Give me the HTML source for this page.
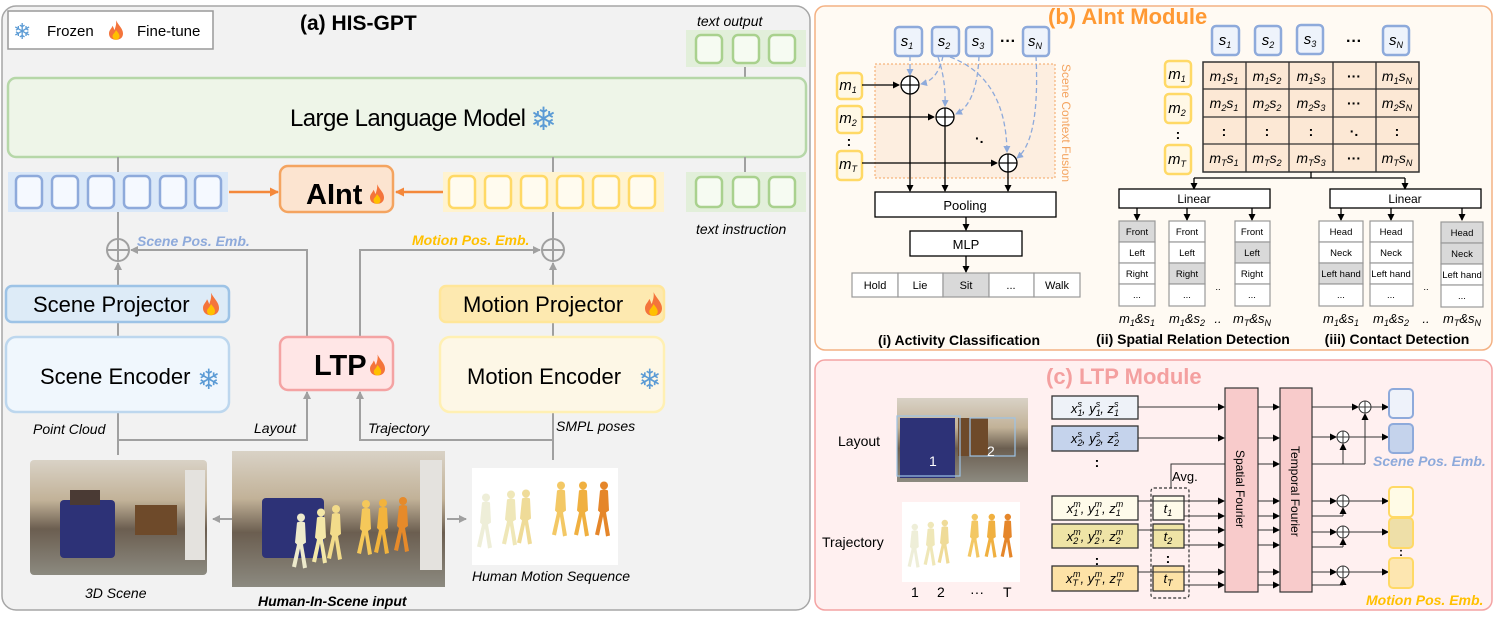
<!DOCTYPE html>
<html><head><meta charset="utf-8"><style>
html,body{margin:0;padding:0;background:#fff}
svg{display:block}
text{font-family:"Liberation Sans",sans-serif}
.it{font-style:italic}
.m{font-family:"Liberation Serif",serif;font-style:italic}
.sb{font-size:9px}
.sf{font-family:"DejaVu Sans",sans-serif;fill:#5b9bd5}
</style></head><body>
<svg width="1495" height="617" viewBox="0 0 1495 617" xmlns="http://www.w3.org/2000/svg">
<defs>
<marker id="ag" markerWidth="8" markerHeight="8" refX="7" refY="4" orient="auto" markerUnits="userSpaceOnUse"><path d="M0,0 L8,4 L0,8z" fill="#a0a0a0"/></marker>
<marker id="ao" markerWidth="9" markerHeight="9" refX="8" refY="4.5" orient="auto" markerUnits="userSpaceOnUse"><path d="M0,0 L9,4.5 L0,9z" fill="#f4883b"/></marker>
<marker id="ak" markerWidth="7" markerHeight="7" refX="6" refY="3.5" orient="auto" markerUnits="userSpaceOnUse"><path d="M0,0 L7,3.5 L0,7z" fill="#000"/></marker>
<marker id="ab" markerWidth="7" markerHeight="7" refX="6" refY="3.5" orient="auto" markerUnits="userSpaceOnUse"><path d="M0,0 L7,3.5 L0,7z" fill="#8eaadb"/></marker>
<symbol id="fl" viewBox="0 0 10 14"><path d="M5 0 C7 4 10 6 10 9.5 C10 12.5 7.8 14 5 14 C2.2 14 0 12.5 0 9.5 C0 7 2 6 2.5 4 C3.5 5.5 3.5 6.5 4 7 C4.5 5 5.5 3 5 0Z" fill="#f4743b"/><path d="M5 7 C6.5 9 7.5 10 7.5 11.5 C7.5 13 6.3 14 5 14 C3.7 14 2.5 13 2.5 11.5 C2.5 10 4 9.5 5 7Z" fill="#ffc000"/></symbol>
<symbol id="fig" viewBox="0 0 20 60"><circle cx="11" cy="5" r="4"/><path d="M7 10 Q11 8 15 10 L16 30 L13 32 L17 55 L13 56 L10 36 L6 55 L2 54 L7 32 L5 30z"/></symbol>
<linearGradient id="room" x1="0" y1="0" x2="0" y2="1"><stop offset="0" stop-color="#d9d2c6"/><stop offset="0.35" stop-color="#c2b298"/><stop offset="0.6" stop-color="#6b5e50"/><stop offset="1" stop-color="#8c8a80"/></linearGradient>
</defs>

<!-- ========== (a) ========== -->
<rect x="2" y="6" width="808" height="604" rx="14" fill="#f2f2f2" stroke="#a6a6a6" stroke-width="1.5"/>
<rect x="8" y="11" width="205" height="38" fill="#fff" stroke="#999" stroke-width="1.5"/>
<text x="13" y="39" class="sf" font-size="22">❄</text>
<text x="47" y="36" font-size="15">Frozen</text>
<use href="#fl" x="109" y="18" width="14" height="24"/>
<text x="137" y="36" font-size="15">Fine-tune</text>
<text x="300" y="30" font-size="21" font-weight="bold">(a) HIS-GPT</text>
<text x="697" y="26" font-size="14" class="it">text output</text>
<rect x="686" y="30" width="120" height="37" fill="#e2efda"/>
<rect x="696" y="35" width="26" height="28" rx="5" fill="#f6fbf2" stroke="#a9d18e" stroke-width="2.5"/>
<rect x="733" y="35" width="26" height="28" rx="5" fill="#f6fbf2" stroke="#a9d18e" stroke-width="2.5"/>
<rect x="769" y="35" width="26" height="28" rx="5" fill="#f6fbf2" stroke="#a9d18e" stroke-width="2.5"/>
<line x1="745" y1="67" x2="745" y2="78" stroke="#a0a0a0" stroke-width="2"/>
<rect x="8" y="78" width="798" height="79" rx="8" fill="#eef5e8" stroke="#b6d7a8" stroke-width="2.5"/>
<text x="290" y="126" font-size="24" textLength="236">Large Language Model</text>
<text x="530" y="130" class="sf" font-size="32">❄</text>

<line x1="118" y1="157" x2="118" y2="172" stroke="#a0a0a0" stroke-width="2"/>
<line x1="553" y1="157" x2="553" y2="172" stroke="#a0a0a0" stroke-width="2"/>
<line x1="745" y1="157" x2="745" y2="172" stroke="#a0a0a0" stroke-width="2"/>

<rect x="8" y="172" width="220" height="40" fill="#dae8f8"/>
<g fill="#f5f9ff" stroke="#8eaadb" stroke-width="2.5">
<rect x="16" y="176" width="26" height="32" rx="5"/><rect x="52" y="176" width="26" height="32" rx="5"/><rect x="88" y="176" width="26" height="32" rx="5"/><rect x="124" y="176" width="26" height="32" rx="5"/><rect x="160" y="176" width="26" height="32" rx="5"/><rect x="195" y="176" width="26" height="32" rx="5"/>
</g>
<line x1="229" y1="192" x2="278" y2="192" stroke="#f4883b" stroke-width="2.5" marker-end="url(#ao)"/>
<rect x="280" y="166" width="113" height="46" rx="8" fill="#fce4d0" stroke="#f4a460" stroke-width="2.5"/>
<text x="306" y="204" font-size="29" font-weight="bold">AInt</text>
<use href="#fl" x="370" y="182" width="14" height="24"/>
<line x1="443" y1="192" x2="396" y2="192" stroke="#f4883b" stroke-width="2.5" marker-end="url(#ao)"/>
<rect x="443" y="172" width="221" height="40" fill="#fff3cf"/>
<g fill="#fffbef" stroke="#ffd966" stroke-width="2.5">
<rect x="449" y="176" width="26" height="32" rx="5"/><rect x="485" y="176" width="26" height="32" rx="5"/><rect x="521" y="176" width="26" height="32" rx="5"/><rect x="557" y="176" width="26" height="32" rx="5"/><rect x="593" y="176" width="26" height="32" rx="5"/><rect x="629" y="176" width="26" height="32" rx="5"/>
</g>
<rect x="686" y="172" width="120" height="40" fill="#e2efda"/>
<rect x="696" y="177" width="26" height="30" rx="5" fill="#f6fbf2" stroke="#a9d18e" stroke-width="2.5"/>
<rect x="733" y="177" width="26" height="30" rx="5" fill="#f6fbf2" stroke="#a9d18e" stroke-width="2.5"/>
<rect x="769" y="177" width="26" height="30" rx="5" fill="#f6fbf2" stroke="#a9d18e" stroke-width="2.5"/>
<text x="696" y="234" font-size="14" class="it">text instruction</text>

<g stroke="#a0a0a0" stroke-width="2" fill="none">
<line x1="118" y1="212" x2="118" y2="239"/>
<line x1="553" y1="212" x2="553" y2="239"/>
<circle cx="118" cy="250" r="11" fill="#f2f2f2"/><path d="M107 250h22M118 239v22"/>
<circle cx="553" cy="250" r="11" fill="#f2f2f2"/><path d="M542 250h22M553 239v22"/>
<path d="M307 337 V250 H131" marker-end="url(#ag)"/>
<path d="M360 337 V250 H540" marker-end="url(#ag)"/>
<line x1="118" y1="286" x2="118" y2="263" marker-end="url(#ag)"/>
<line x1="553" y1="286" x2="553" y2="263" marker-end="url(#ag)"/>
<line x1="118" y1="322" x2="118" y2="337"/>
<line x1="553" y1="322" x2="553" y2="337"/>
<path d="M118 412 V455"/>
<path d="M118 440 H307 V392" marker-end="url(#ag)"/>
<path d="M553 412 V460"/>
<path d="M553 440 H360 V392" marker-end="url(#ag)"/>
<line x1="232" y1="519" x2="213" y2="519" marker-end="url(#ag)"/>
<line x1="447" y1="519" x2="466" y2="519" marker-end="url(#ag)"/>
</g>
<text x="137" y="246" font-size="14" class="it" font-weight="bold" fill="#8eaadb">Scene Pos. Emb.</text>
<text x="412" y="245" font-size="14" class="it" font-weight="bold" fill="#ffc000">Motion Pos. Emb.</text>

<rect x="6" y="286" width="223" height="36" rx="6" fill="#ddebf7" stroke="#9dc3e6" stroke-width="2.5"/>
<text x="33" y="312" font-size="22">Scene Projector</text>
<use href="#fl" x="203" y="291" width="16" height="26"/>
<rect x="440" y="286" width="224" height="36" rx="6" fill="#fde9b0" stroke="#ffe699" stroke-width="2.5"/>
<text x="463" y="312" font-size="22">Motion Projector</text>
<use href="#fl" x="645" y="290" width="17" height="28"/>
<rect x="6" y="337" width="223" height="75" rx="10" fill="#f0f7fd" stroke="#bdd7ee" stroke-width="2.5"/>
<text x="40" y="384" font-size="22">Scene Encoder</text>
<text x="197" y="389" class="sf" font-size="28">❄</text>
<rect x="280" y="337" width="113" height="53" rx="8" fill="#ffe6e6" stroke="#f4a3a3" stroke-width="2.5"/>
<text x="314" y="375" font-size="29" font-weight="bold">LTP</text>
<use href="#fl" x="370" y="352" width="15" height="26"/>
<rect x="440" y="337" width="224" height="75" rx="10" fill="#fdf7e6" stroke="#fff0b3" stroke-width="2.5"/>
<text x="467" y="384" font-size="22">Motion Encoder</text>
<text x="638" y="389" class="sf" font-size="28">❄</text>
<text x="33" y="434" font-size="14" class="it">Point Cloud</text>
<text x="254" y="433" font-size="14" class="it">Layout</text>
<text x="368" y="433" font-size="14" class="it">Trajectory</text>
<text x="556" y="431" font-size="14" class="it">SMPL poses</text>

<!-- images -->
<rect x="30" y="460" width="177" height="115" fill="url(#room)" rx="4"/>
<rect x="60" y="500" width="55" height="58" fill="#2d3277" rx="4"/>
<rect x="70" y="490" width="30" height="15" fill="#4a3a34"/>
<rect x="135" y="505" width="42" height="30" fill="#6e4a2a"/>
<rect x="185" y="470" width="20" height="90" fill="#e4e2de"/>
<rect x="232" y="451" width="213" height="136" fill="url(#room)"/>
<rect x="262" y="498" width="62" height="60" fill="#2d3277" rx="4"/>
<rect x="420" y="460" width="22" height="110" fill="#e4e2de"/>
<g>
<use href="#fig" x="290" y="500" width="20" height="85" fill="#eeeacc"/>
<use href="#fig" x="310" y="495" width="20" height="85" fill="#f3e7a8"/>
<use href="#fig" x="325" y="493" width="20" height="82" fill="#f2db8a"/>
<use href="#fig" x="355" y="488" width="20" height="82" fill="#f5c85a"/>
<use href="#fig" x="372" y="488" width="20" height="80" fill="#f2b33c"/>
<use href="#fig" x="392" y="486" width="20" height="80" fill="#e68a2a"/>
</g>
<rect x="472" y="468" width="146" height="97" fill="#fff"/>
<use href="#fig" x="475" y="480" width="20" height="85" fill="#eeeed8"/>
<use href="#fig" x="500" y="477" width="20" height="85" fill="#efe7b8"/>
<use href="#fig" x="515" y="476" width="20" height="85" fill="#efdb98"/>
<use href="#fig" x="550" y="468" width="20" height="85" fill="#f3c865"/>
<use href="#fig" x="572" y="468" width="20" height="85" fill="#f0b040"/>
<use href="#fig" x="593" y="468" width="20" height="85" fill="#e5862a"/>
<text x="85" y="598" font-size="14" class="it">3D Scene</text>
<text x="258" y="606" font-size="14" class="it" font-weight="bold">Human-In-Scene input</text>
<text x="472" y="581" font-size="14" class="it">Human Motion Sequence</text>

<!-- ========== (b) ========== -->
<rect x="815" y="6" width="677" height="344" rx="10" fill="#fffaf3" stroke="#f4b183" stroke-width="1.5"/>
<text x="1048" y="24" font-size="22" font-weight="bold" fill="#ff9933">(b) AInt Module</text>
<rect x="875" y="64" width="180" height="114" fill="#fdeee0" stroke="#f4a460" stroke-width="1" stroke-dasharray="2,2"/>
<text transform="translate(1062,64) rotate(90)" font-size="12" fill="#f4a460">Scene Context Fusion</text>
<g fill="#eef3fb" stroke="#8eaadb" stroke-width="2.5">
<rect x="895" y="27" width="27" height="29" rx="4"/><rect x="932" y="27" width="27" height="29" rx="4"/><rect x="966" y="27" width="26" height="29" rx="4"/><rect x="1023" y="27" width="26" height="29" rx="4"/>
</g>
<text x="1008" y="46" font-size="16" text-anchor="middle" font-weight="bold">···</text>
<g font-size="15" class="m" text-anchor="middle">
<text x="907" y="46">s<tspan class="sb" dy="3">1</tspan></text>
<text x="944" y="46">s<tspan class="sb" dy="3">2</tspan></text>
<text x="978" y="46">s<tspan class="sb" dy="3">3</tspan></text>
<text x="1035" y="46">s<tspan class="sb" dy="3">N</tspan></text>
</g>
<g fill="#fff8e6" stroke="#ffd966" stroke-width="2.5">
<rect x="837" y="73" width="25" height="26" rx="4"/><rect x="837" y="106" width="25" height="27" rx="4"/><rect x="837" y="151" width="25" height="29" rx="4"/>
</g>
<text x="849" y="146" font-size="14" text-anchor="middle" font-weight="bold">:</text>
<g font-size="15" class="m" text-anchor="middle">
<text x="848" y="90">m<tspan class="sb" dy="3">1</tspan></text>
<text x="848" y="123">m<tspan class="sb" dy="3">2</tspan></text>
<text x="848" y="169">m<tspan class="sb" dy="3">T</tspan></text>
</g>
<g stroke="#8eaadb" stroke-width="1.3" stroke-dasharray="5,3" fill="none" marker-end="url(#ab)">
<path d="M910 56 L910 75"/>
<path d="M943 56 Q938 80 921 84"/>
<path d="M938 57 Q946 80 945 106"/>
<path d="M979 56 Q977 104 956 114"/>
<path d="M950 57 Q1006 78 1007 152"/>
<path d="M1036 56 Q1040 140 1017 158"/>
</g>
<g stroke="#000" stroke-width="1.3" fill="none">
<line x1="862" y1="85" x2="899" y2="85" marker-end="url(#ak)"/>
<line x1="862" y1="117" x2="934" y2="117" marker-end="url(#ak)"/>
<line x1="862" y1="163" x2="997" y2="163" marker-end="url(#ak)"/>
<circle cx="910" cy="85" r="9" fill="#fff"/><path d="M901 85h18M910 76v18"/>
<circle cx="945" cy="117" r="9" fill="#fff"/><path d="M936 117h18M945 108v18"/>
<circle cx="1008" cy="163" r="9" fill="#fff"/><path d="M999 163h18M1008 154v18"/>
<line x1="910" y1="94" x2="910" y2="191" marker-end="url(#ak)"/>
<line x1="945" y1="126" x2="945" y2="191" marker-end="url(#ak)"/>
<line x1="1008" y1="172" x2="1008" y2="191" marker-end="url(#ak)"/>
<line x1="966" y1="217" x2="966" y2="230" marker-end="url(#ak)"/>
<line x1="966" y1="256" x2="966" y2="272" marker-end="url(#ak)"/>
</g>
<text x="975" y="143" font-size="14" font-weight="bold">·.</text>
<rect x="875" y="192" width="181" height="25" fill="#fff" stroke="#000" stroke-width="1.3"/>
<text x="965" y="210" font-size="13" text-anchor="middle">Pooling</text>
<rect x="910" y="231" width="112" height="25" fill="#fff" stroke="#000" stroke-width="1.3"/>
<text x="966" y="249" font-size="13" text-anchor="middle">MLP</text>
<g stroke="#999" stroke-width="1.2" fill="#fff">
<rect x="852" y="273" width="46" height="24"/><rect x="898" y="273" width="45" height="24"/><rect x="943" y="273" width="46" height="24" fill="#d9d9d9"/><rect x="989" y="273" width="45" height="24"/><rect x="1034" y="273" width="46" height="24"/>
</g>
<g font-size="11" text-anchor="middle">
<text x="875" y="289">Hold</text><text x="920" y="289">Lie</text><text x="966" y="289">Sit</text><text x="1011" y="289">...</text><text x="1057" y="289">Walk</text>
</g>
<text x="959" y="345" font-size="14" font-weight="bold" text-anchor="middle">(i) Activity Classification</text>

<g fill="#eef3fb" stroke="#8eaadb" stroke-width="2.5">
<rect x="1212" y="26" width="27" height="29" rx="4"/><rect x="1255" y="26" width="26" height="29" rx="4"/><rect x="1297" y="25" width="26" height="29" rx="4"/><rect x="1383" y="26" width="26" height="29" rx="4"/>
</g>
<text x="1354" y="46" font-size="16" text-anchor="middle" font-weight="bold">···</text>
<g font-size="15" class="m" text-anchor="middle">
<text x="1225" y="45">s<tspan class="sb" dy="3">1</tspan></text>
<text x="1268" y="45">s<tspan class="sb" dy="3">2</tspan></text>
<text x="1310" y="44">s<tspan class="sb" dy="3">3</tspan></text>
<text x="1396" y="45">s<tspan class="sb" dy="3">N</tspan></text>
</g>
<g fill="#fff8e6" stroke="#ffd966" stroke-width="2.5">
<rect x="1165" y="61" width="26" height="26" rx="4"/><rect x="1165" y="94" width="26" height="29" rx="4"/><rect x="1165" y="145" width="26" height="29" rx="4"/>
</g>
<text x="1178" y="139" font-size="14" text-anchor="middle" font-weight="bold">:</text>
<g font-size="15" class="m" text-anchor="middle">
<text x="1177" y="79">m<tspan class="sb" dy="3">1</tspan></text>
<text x="1177" y="113">m<tspan class="sb" dy="3">2</tspan></text>
<text x="1177" y="164">m<tspan class="sb" dy="3">T</tspan></text>
</g>
<rect x="1203" y="62" width="216" height="110" fill="#fce8d5" stroke="#333" stroke-width="1.5"/>
<g stroke="#333" stroke-width="1.3">
<line x1="1246" y1="62" x2="1246" y2="172"/><line x1="1289" y1="62" x2="1289" y2="172"/><line x1="1333" y1="62" x2="1333" y2="172"/><line x1="1376" y1="62" x2="1376" y2="172"/>
<line x1="1203" y1="89" x2="1419" y2="89"/><line x1="1203" y1="117" x2="1419" y2="117"/><line x1="1203" y1="144" x2="1419" y2="144"/>
</g>
<g font-size="14" class="m" text-anchor="middle">
<text x="1224" y="81">m<tspan class="sb" dy="3">1</tspan><tspan dy="-3">s</tspan><tspan class="sb" dy="3">1</tspan></text>
<text x="1267" y="81">m<tspan class="sb" dy="3">1</tspan><tspan dy="-3">s</tspan><tspan class="sb" dy="3">2</tspan></text>
<text x="1311" y="81">m<tspan class="sb" dy="3">1</tspan><tspan dy="-3">s</tspan><tspan class="sb" dy="3">3</tspan></text>
<text x="1397" y="81">m<tspan class="sb" dy="3">1</tspan><tspan dy="-3">s</tspan><tspan class="sb" dy="3">N</tspan></text>
<text x="1224" y="108">m<tspan class="sb" dy="3">2</tspan><tspan dy="-3">s</tspan><tspan class="sb" dy="3">1</tspan></text>
<text x="1267" y="108">m<tspan class="sb" dy="3">2</tspan><tspan dy="-3">s</tspan><tspan class="sb" dy="3">2</tspan></text>
<text x="1311" y="108">m<tspan class="sb" dy="3">2</tspan><tspan dy="-3">s</tspan><tspan class="sb" dy="3">3</tspan></text>
<text x="1397" y="108">m<tspan class="sb" dy="3">2</tspan><tspan dy="-3">s</tspan><tspan class="sb" dy="3">N</tspan></text>
<text x="1224" y="163">m<tspan class="sb" dy="3">T</tspan><tspan dy="-3">s</tspan><tspan class="sb" dy="3">1</tspan></text>
<text x="1267" y="163">m<tspan class="sb" dy="3">T</tspan><tspan dy="-3">s</tspan><tspan class="sb" dy="3">2</tspan></text>
<text x="1311" y="163">m<tspan class="sb" dy="3">T</tspan><tspan dy="-3">s</tspan><tspan class="sb" dy="3">3</tspan></text>
<text x="1397" y="163">m<tspan class="sb" dy="3">T</tspan><tspan dy="-3">s</tspan><tspan class="sb" dy="3">N</tspan></text>
</g>
<g font-size="14" font-weight="bold" text-anchor="middle">
<text x="1354" y="81">···</text><text x="1354" y="163">···</text><text x="1354" y="108">···</text>
<text x="1224" y="136">:</text><text x="1267" y="136">:</text><text x="1311" y="136">:</text><text x="1354" y="136">·.</text><text x="1397" y="136">:</text>
</g>
<g stroke="#000" stroke-width="1.3" fill="none">
<path d="M1311 172 V178"/><path d="M1194 178 H1405"/>
<line x1="1194" y1="178" x2="1194" y2="189" marker-end="url(#ak)"/>
<line x1="1405" y1="178" x2="1405" y2="189" marker-end="url(#ak)"/>
<line x1="1137" y1="208" x2="1137" y2="220" marker-end="url(#ak)"/>
<line x1="1187" y1="208" x2="1187" y2="220" marker-end="url(#ak)"/>
<line x1="1252" y1="208" x2="1252" y2="220" marker-end="url(#ak)"/>
<line x1="1341" y1="208" x2="1341" y2="220" marker-end="url(#ak)"/>
<line x1="1391" y1="208" x2="1391" y2="220" marker-end="url(#ak)"/>
<line x1="1462" y1="208" x2="1462" y2="220" marker-end="url(#ak)"/>
</g>
<rect x="1119" y="189" width="151" height="19" fill="#fff" stroke="#000" stroke-width="1.3"/>
<text x="1194" y="203" font-size="12" text-anchor="middle">Linear</text>
<rect x="1330" y="189" width="151" height="19" fill="#fff" stroke="#000" stroke-width="1.3"/>
<text x="1405" y="203" font-size="12" text-anchor="middle">Linear</text>
<g stroke="#999" stroke-width="1.2" fill="#fff">
<rect x="1119" y="221" width="36" height="21" fill="#d9d9d9"/><rect x="1119" y="242" width="36" height="21"/><rect x="1119" y="263" width="36" height="21"/><rect x="1119" y="284" width="36" height="22"/>
<rect x="1169" y="221" width="36" height="21"/><rect x="1169" y="242" width="36" height="21"/><rect x="1169" y="263" width="36" height="21" fill="#d9d9d9"/><rect x="1169" y="284" width="36" height="22"/>
<rect x="1235" y="221" width="35" height="21"/><rect x="1235" y="242" width="35" height="21" fill="#d9d9d9"/><rect x="1235" y="263" width="35" height="21"/><rect x="1235" y="284" width="35" height="22"/>
<rect x="1319" y="221" width="44" height="21"/><rect x="1319" y="242" width="44" height="21"/><rect x="1319" y="263" width="44" height="21" fill="#d9d9d9"/><rect x="1319" y="284" width="44" height="22"/>
<rect x="1370" y="221" width="43" height="21"/><rect x="1370" y="242" width="43" height="21"/><rect x="1370" y="263" width="43" height="21"/><rect x="1370" y="284" width="43" height="22"/>
<rect x="1441" y="222" width="42" height="21" fill="#d9d9d9"/><rect x="1441" y="243" width="42" height="21" fill="#d9d9d9"/><rect x="1441" y="264" width="42" height="21"/><rect x="1441" y="285" width="42" height="22"/>
</g>
<g font-size="9.5" text-anchor="middle">
<text x="1137" y="235">Front</text><text x="1137" y="256">Left</text><text x="1137" y="277">Right</text><text x="1137" y="298">...</text>
<text x="1187" y="235">Front</text><text x="1187" y="256">Left</text><text x="1187" y="277">Right</text><text x="1187" y="298">...</text>
<text x="1252" y="235">Front</text><text x="1252" y="256">Left</text><text x="1252" y="277">Right</text><text x="1252" y="298">...</text>
<text x="1341" y="235">Head</text><text x="1341" y="256">Neck</text><text x="1341" y="277">Left hand</text><text x="1341" y="298">...</text>
<text x="1391" y="235">Head</text><text x="1391" y="256">Neck</text><text x="1391" y="277">Left hand</text><text x="1391" y="298">...</text>
<text x="1462" y="236">Head</text><text x="1462" y="257">Neck</text><text x="1462" y="278">Left hand</text><text x="1462" y="299">...</text>
<text x="1218" y="290">..</text><text x="1426" y="290">..</text>
</g>
<g font-size="13" class="m" text-anchor="middle">
<text x="1137" y="323">m<tspan class="sb" dy="3">1</tspan><tspan dy="-3">&amp;s</tspan><tspan class="sb" dy="3">1</tspan></text>
<text x="1187" y="323">m<tspan class="sb" dy="3">1</tspan><tspan dy="-3">&amp;s</tspan><tspan class="sb" dy="3">2</tspan></text>
<text x="1218" y="323">..</text>
<text x="1252" y="323">m<tspan class="sb" dy="3">T</tspan><tspan dy="-3">&amp;s</tspan><tspan class="sb" dy="3">N</tspan></text>
<text x="1341" y="323">m<tspan class="sb" dy="3">1</tspan><tspan dy="-3">&amp;s</tspan><tspan class="sb" dy="3">1</tspan></text>
<text x="1391" y="323">m<tspan class="sb" dy="3">1</tspan><tspan dy="-3">&amp;s</tspan><tspan class="sb" dy="3">2</tspan></text>
<text x="1426" y="323">..</text>
<text x="1462" y="323">m<tspan class="sb" dy="3">T</tspan><tspan dy="-3">&amp;s</tspan><tspan class="sb" dy="3">N</tspan></text>
</g>
<text x="1193" y="344" font-size="14" font-weight="bold" text-anchor="middle">(ii) Spatial Relation Detection</text>
<text x="1397" y="344" font-size="14" font-weight="bold" text-anchor="middle">(iii) Contact Detection</text>

<!-- ========== (c) ========== -->
<rect x="815" y="360" width="677" height="250" rx="10" fill="#fff0f0" stroke="#f4a3a3" stroke-width="1.5"/>
<text x="1046" y="384" font-size="22" font-weight="bold" fill="#f4a0a0">(c) LTP Module</text>
<text x="838" y="446" font-size="14">Layout</text>
<text x="822" y="547" font-size="14">Trajectory</text>
<rect x="897" y="398" width="131" height="84" fill="url(#room)"/>
<rect x="900" y="418" width="55" height="60" fill="#2d3277"/>
<rect x="958" y="418" width="30" height="38" fill="#6e4a2a"/>
<rect x="897" y="416" width="63" height="60" fill="none" stroke="#9dc3e6" stroke-width="1.2"/>
<rect x="970" y="418" width="45" height="38" fill="none" stroke="#9dc3e6" stroke-width="1.2"/>
<text x="929" y="466" font-size="14" fill="#fff">1</text>
<text x="987" y="456" font-size="14" fill="#fff">2</text>
<rect x="902" y="502" width="118" height="80" fill="#fff"/>
<use href="#fig" x="906" y="512" width="16" height="70" fill="#eeeed8"/>
<use href="#fig" x="922" y="510" width="16" height="70" fill="#efe7b8"/>
<use href="#fig" x="936" y="508" width="16" height="70" fill="#efdb98"/>
<use href="#fig" x="966" y="502" width="16" height="70" fill="#f3c865"/>
<use href="#fig" x="983" y="502" width="16" height="70" fill="#f0b040"/>
<use href="#fig" x="999" y="502" width="16" height="70" fill="#e5862a"/>
<text x="911" y="597" font-size="14">1</text><text x="937" y="597" font-size="14">2</text><text x="970" y="597" font-size="14">···</text><text x="1003" y="597" font-size="14">T</text>

<g stroke="#333" stroke-width="1.3">
<rect x="1052" y="396" width="86" height="23" fill="#eef2f8"/>
<rect x="1052" y="426" width="86" height="25" fill="#c5d3ec"/>
<rect x="1052" y="496" width="86" height="24" fill="#fefbea"/>
<rect x="1052" y="524" width="86" height="24" fill="#efe4a6"/>
<rect x="1052" y="566" width="86" height="25" fill="#fde2a6"/>
<rect x="1153" y="496" width="31" height="24" fill="#fefbea"/>
<rect x="1153" y="524" width="31" height="24" fill="#efe4a6"/>
<rect x="1153" y="566" width="31" height="25" fill="#fde2a6"/>
</g>
<rect x="1151" y="488" width="38" height="110" rx="3" fill="none" stroke="#333" stroke-width="1.2" stroke-dasharray="3,2"/>
<g font-size="13" class="m" text-anchor="middle">
<text x="1095" y="413">x<tspan class="sb" dy="3">1</tspan><tspan class="sb" dx="-5" dy="-9">s</tspan><tspan dy="6">,  y</tspan><tspan class="sb" dy="3">1</tspan><tspan class="sb" dx="-5" dy="-9">s</tspan><tspan dy="6">,  z</tspan><tspan class="sb" dy="3">1</tspan><tspan class="sb" dx="-5" dy="-9">s</tspan></text>
<text x="1095" y="443">x<tspan class="sb" dy="3">2</tspan><tspan class="sb" dx="-5" dy="-9">s</tspan><tspan dy="6">,  y</tspan><tspan class="sb" dy="3">2</tspan><tspan class="sb" dx="-5" dy="-9">s</tspan><tspan dy="6">,  z</tspan><tspan class="sb" dy="3">2</tspan><tspan class="sb" dx="-5" dy="-9">s</tspan></text>
<text x="1095" y="513">x<tspan class="sb" dy="3">1</tspan><tspan class="sb" dx="-5" dy="-9">m</tspan><tspan dy="6">, y</tspan><tspan class="sb" dy="3">1</tspan><tspan class="sb" dx="-5" dy="-9">m</tspan><tspan dy="6">, z</tspan><tspan class="sb" dy="3">1</tspan><tspan class="sb" dx="-5" dy="-9">m</tspan></text>
<text x="1095" y="541">x<tspan class="sb" dy="3">2</tspan><tspan class="sb" dx="-5" dy="-9">m</tspan><tspan dy="6">, y</tspan><tspan class="sb" dy="3">2</tspan><tspan class="sb" dx="-5" dy="-9">m</tspan><tspan dy="6">, z</tspan><tspan class="sb" dy="3">2</tspan><tspan class="sb" dx="-5" dy="-9">m</tspan></text>
<text x="1095" y="583">x<tspan class="sb" dy="3">T</tspan><tspan class="sb" dx="-5" dy="-9">m</tspan><tspan dy="6">, y</tspan><tspan class="sb" dy="3">T</tspan><tspan class="sb" dx="-5" dy="-9">m</tspan><tspan dy="6">, z</tspan><tspan class="sb" dy="3">T</tspan><tspan class="sb" dx="-5" dy="-9">m</tspan></text>
<text x="1168" y="513">t<tspan class="sb" dy="3">1</tspan></text>
<text x="1168" y="541">t<tspan class="sb" dy="3">2</tspan></text>
<text x="1168" y="583">t<tspan class="sb" dy="3">T</tspan></text>
</g>
<g font-size="14" font-weight="bold" text-anchor="middle"><text x="1097" y="467">:</text><text x="1097" y="565">:</text><text x="1168" y="563">:</text></g>
<text x="1172" y="481" font-size="13">Avg.</text>

<g stroke="#333" stroke-width="1" fill="none">
<line x1="1138" y1="407" x2="1224" y2="407" marker-end="url(#ak)"/>
<line x1="1138" y1="438" x2="1224" y2="438" marker-end="url(#ak)"/>
<path d="M1171 488 V464 H1279" marker-end="url(#ak)"/>
<line x1="1138" y1="501" x2="1224" y2="501" marker-end="url(#ak)"/>
<line x1="1184" y1="516" x2="1224" y2="516" marker-end="url(#ak)"/>
<line x1="1138" y1="530" x2="1224" y2="530" marker-end="url(#ak)"/>
<line x1="1184" y1="545" x2="1224" y2="545" marker-end="url(#ak)"/>
<line x1="1138" y1="572" x2="1224" y2="572" marker-end="url(#ak)"/>
<line x1="1184" y1="585" x2="1224" y2="585" marker-end="url(#ak)"/>
<line x1="1258" y1="407" x2="1279" y2="407" marker-end="url(#ak)"/>
<line x1="1258" y1="438" x2="1279" y2="438" marker-end="url(#ak)"/>
<line x1="1258" y1="501" x2="1279" y2="501" marker-end="url(#ak)"/>
<line x1="1258" y1="516" x2="1279" y2="516" marker-end="url(#ak)"/>
<line x1="1258" y1="530" x2="1279" y2="530" marker-end="url(#ak)"/>
<line x1="1258" y1="545" x2="1279" y2="545" marker-end="url(#ak)"/>
<line x1="1258" y1="572" x2="1279" y2="572" marker-end="url(#ak)"/>
<line x1="1258" y1="585" x2="1279" y2="585" marker-end="url(#ak)"/>
<line x1="1312" y1="407" x2="1358" y2="407" marker-end="url(#ak)"/>
<line x1="1371" y1="407" x2="1388" y2="407" marker-end="url(#ak)"/>
<line x1="1312" y1="437" x2="1336" y2="437" marker-end="url(#ak)"/>
<line x1="1349" y1="437" x2="1388" y2="437" marker-end="url(#ak)"/>
<path d="M1312 464 H1365"/>
<line x1="1365" y1="464" x2="1365" y2="414" marker-end="url(#ak)"/>
<line x1="1343" y1="464" x2="1343" y2="444" marker-end="url(#ak)"/>
<line x1="1312" y1="501" x2="1336" y2="501" marker-end="url(#ak)"/>
<line x1="1349" y1="501" x2="1388" y2="501" marker-end="url(#ak)"/>
<path d="M1312 516 H1343"/><line x1="1343" y1="516" x2="1343" y2="508" marker-end="url(#ak)"/>
<line x1="1312" y1="532" x2="1336" y2="532" marker-end="url(#ak)"/>
<line x1="1349" y1="532" x2="1388" y2="532" marker-end="url(#ak)"/>
<path d="M1312 547 H1343"/><line x1="1343" y1="547" x2="1343" y2="539" marker-end="url(#ak)"/>
<line x1="1312" y1="572" x2="1336" y2="572" marker-end="url(#ak)"/>
<line x1="1349" y1="572" x2="1388" y2="572" marker-end="url(#ak)"/>
<path d="M1312 585 H1343"/><line x1="1343" y1="585" x2="1343" y2="579" marker-end="url(#ak)"/>
<circle cx="1365" cy="407" r="6" fill="#fff"/><path d="M1359 407h12M1365 401v12"/>
<circle cx="1343" cy="437" r="6" fill="#fff"/><path d="M1337 437h12M1343 431v12"/>
<circle cx="1343" cy="501" r="6" fill="#fff"/><path d="M1337 501h12M1343 495v12"/>
<circle cx="1343" cy="532" r="6" fill="#fff"/><path d="M1337 532h12M1343 526v12"/>
<circle cx="1343" cy="572" r="6" fill="#fff"/><path d="M1337 572h12M1343 566v12"/>
</g>
<rect x="1225" y="388" width="33" height="204" fill="#f8cbcb" stroke="#333" stroke-width="1.2"/>
<rect x="1280" y="388" width="32" height="204" fill="#f8cbcb" stroke="#333" stroke-width="1.2"/>
<text transform="translate(1236,450) rotate(90)" font-size="12">Spatial Fourier</text>
<text transform="translate(1291,446) rotate(90)" font-size="12">Temporal Fourier</text>
<rect x="1389" y="389" width="24" height="29" rx="4" fill="#eef2fa" stroke="#8eaadb" stroke-width="2"/>
<rect x="1389" y="424" width="24" height="29" rx="4" fill="#c5d3ec" stroke="#8eaadb" stroke-width="2"/>
<rect x="1389" y="487" width="24" height="30" rx="4" fill="#fffbe6" stroke="#ffd966" stroke-width="2"/>
<rect x="1389" y="518" width="24" height="30" rx="4" fill="#eedfa8" stroke="#ffd966" stroke-width="2"/>
<rect x="1389" y="558" width="24" height="30" rx="4" fill="#fde6b0" stroke="#ffd966" stroke-width="2"/>
<text x="1401" y="556" font-size="12" font-weight="bold" text-anchor="middle">:</text>
<text x="1373" y="466" font-size="14" class="it" font-weight="bold" fill="#8eaadb">Scene Pos. Emb.</text>
<text x="1366" y="605" font-size="14" class="it" font-weight="bold" fill="#ffc000">Motion Pos. Emb.</text>
</svg>
</body></html>
